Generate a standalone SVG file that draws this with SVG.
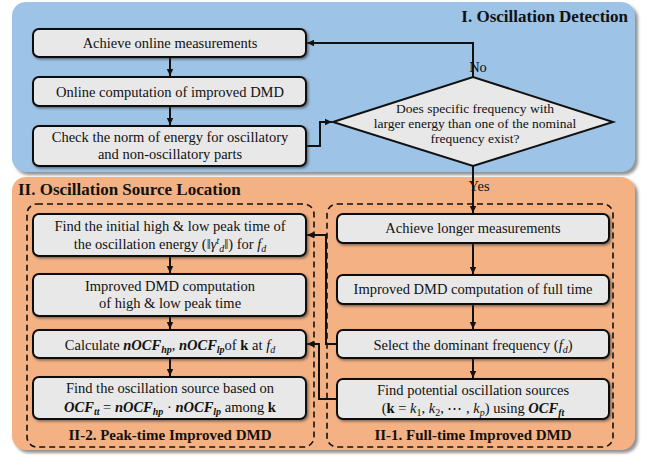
<svg xmlns="http://www.w3.org/2000/svg" width="651" height="455" viewBox="0 0 651 455">
<defs>
<style>
.t{font-family:"Liberation Serif","Times New Roman",serif;font-size:14.5px;fill:#111;text-anchor:middle}
.s{font-size:13.5px}
.h{font-family:"Liberation Serif","Times New Roman",serif;font-weight:bold;fill:#111}
.box{fill:#e8e8e8;stroke:#111;stroke-width:2;filter:url(#sh)}
.dash{fill:none;stroke:#111;stroke-width:1.6;stroke-dasharray:6 4}
.c{fill:none;stroke:#111;stroke-width:2}
.bi{font-weight:bold;font-style:italic}
.i{font-style:italic}
.b{font-weight:bold}
.sub{font-size:10px}
</style>
<filter id="sh" x="-5%" y="-20%" width="115%" height="150%">
<feDropShadow dx="1.5" dy="1.5" stdDeviation="1" flood-color="#333" flood-opacity="0.6"/>
</filter>
<filter id="psh" x="-5%" y="-5%" width="115%" height="115%">
<feDropShadow dx="3" dy="3" stdDeviation="1.5" flood-color="#777" flood-opacity="0.8"/>
</filter>
<marker id="ar" markerWidth="8" markerHeight="8" refX="7" refY="4" orient="auto" markerUnits="userSpaceOnUse">
<path d="M0,0.8 L7,4 L0,7.2 Z" fill="#111"/>
</marker>
</defs>

<g id="panel-detection">
<rect x="12" y="2" width="623" height="170" rx="14" fill="#9dc3e6" filter="url(#psh)"/>
<text class="h" x="628" y="22" font-size="17" text-anchor="end">I. Oscillation Detection</text>
</g>
<g id="panel-location">
<rect x="12" y="177" width="623" height="273" rx="14" fill="#f4b183" filter="url(#psh)"/>
<text class="h" x="18" y="195" font-size="17">II. Oscillation Source Location</text>
</g>

<g id="group-peak">
<rect class="dash" x="27" y="204" width="287" height="243" rx="10"/>
<text class="h" x="170" y="440" font-size="15" text-anchor="middle">II-2. Peak-time Improved DMD</text>
</g>
<g id="group-full">
<rect class="dash" x="327" y="204" width="286" height="243" rx="10"/>
<text class="h" x="473" y="440" font-size="15" text-anchor="middle">II-1. Full-time Improved DMD</text>
</g>

<g id="connectors">
<path class="c" d="M170,57 V76" marker-end="url(#ar)"/>
<path class="c" d="M170,106 V125" marker-end="url(#ar)"/>
<path class="c" d="M306,146 H320 V122 H332" marker-end="url(#ar)"/>
<path class="c" d="M473,77 V43 H307" marker-end="url(#ar)"/>
<path class="c" d="M473,166 V213" marker-end="url(#ar)"/>
<path class="c" d="M473,243 V274" marker-end="url(#ar)"/>
<path class="c" d="M473,304 V329" marker-end="url(#ar)"/>
<path class="c" d="M473,358 V378" marker-end="url(#ar)"/>
<path class="c" d="M170,256 V273" marker-end="url(#ar)"/>
<path class="c" d="M170,316 V329" marker-end="url(#ar)"/>
<path class="c" d="M170,358 V376" marker-end="url(#ar)"/>
<path class="c" d="M337,344 H326 V235 H307" marker-end="url(#ar)"/>
<path class="c" d="M337,399 H319 V344 H307" marker-end="url(#ar)"/>
<text class="t" x="478" y="72" text-anchor="start">No</text>
<text class="t" x="479" y="191" text-anchor="start">Yes</text>
</g>

<g id="n-achieve-online">
<rect class="box" x="33" y="29" width="273" height="28" rx="6"/>
<text class="t" x="170" y="48">Achieve online measurements</text>
</g>
<g id="n-online-dmd">
<rect class="box" x="33" y="77" width="273" height="29" rx="6"/>
<text class="t" x="170" y="97">Online computation of improved DMD</text>
</g>
<g id="n-check-norm">
<rect class="box" x="33" y="126" width="273" height="40" rx="6"/>
<text class="t" x="170" y="142">Check the norm of energy for oscillatory</text>
<text class="t" x="170" y="159">and non-oscillatory parts</text>
</g>
<g id="n-decision">
<polygon points="333,122 473,77 613,122 473,166" fill="#e8e8e8" stroke="#111" stroke-width="2"/>
<text class="t s" x="475" y="113">Does specific frequency with</text>
<text class="t s" x="475" y="128">larger energy than one of the nominal</text>
<text class="t s" x="475" y="143">frequency exist?</text>
</g>

<g id="n-achieve-longer">
<rect class="box" x="337" y="214" width="272" height="29" rx="6"/>
<text class="t" x="473" y="233">Achieve longer measurements</text>
</g>
<g id="n-full-dmd">
<rect class="box" x="337" y="275" width="272" height="29" rx="6"/>
<text class="t" x="473" y="294">Improved DMD computation of full time</text>
</g>
<g id="n-select-freq">
<rect class="box" x="337" y="330" width="272" height="28" rx="6"/>
<text class="t" x="473" y="350">Select the dominant frequency (<tspan class="i">f</tspan><tspan class="i sub" dy="3">d</tspan><tspan dy="-3">)</tspan></text>
</g>
<g id="n-potential">
<rect class="box" x="337" y="379" width="272" height="40" rx="6"/>
<text class="t" x="473" y="395">Find potential oscillation sources</text>
<text class="t" x="473" y="413">(<tspan class="b">k</tspan> = <tspan class="i">k</tspan><tspan class="sub" dy="3">1</tspan><tspan dy="-3">, </tspan><tspan class="i">k</tspan><tspan class="sub" dy="3">2</tspan><tspan dy="-3">, ⋯ , </tspan><tspan class="i">k</tspan><tspan class="i sub" dy="3">p</tspan><tspan dy="-3">) using </tspan><tspan class="bi">OCF</tspan><tspan class="bi sub" dy="3">ft</tspan></text>
</g>

<g id="n-initial-peak">
<rect class="box" x="33" y="214" width="273" height="42" rx="6"/>
<text class="t" x="170" y="231">Find the initial high &amp; low peak time of</text>
<text class="t" x="170" y="249">the oscillation energy (‖<tspan class="i">γ</tspan><tspan class="i sub" dy="-5">t</tspan><tspan class="i sub" dy="8">d</tspan><tspan dy="-3">‖) for </tspan><tspan class="i">f</tspan><tspan class="i sub" dy="3">d</tspan></text>
</g>
<g id="n-peak-dmd">
<rect class="box" x="33" y="274" width="273" height="42" rx="6"/>
<text class="t" x="170" y="291">Improved DMD computation</text>
<text class="t" x="170" y="308">of high &amp; low peak time</text>
</g>
<g id="n-calculate">
<rect class="box" x="33" y="330" width="273" height="28" rx="6"/>
<text class="t" x="170" y="350">Calculate <tspan class="bi">nOCF</tspan><tspan class="bi sub" dy="3">hp</tspan><tspan dy="-3">, </tspan><tspan class="bi">nOCF</tspan><tspan class="bi sub" dy="3">lp</tspan><tspan dy="-3">of </tspan><tspan class="b">k</tspan> at <tspan class="i">f</tspan><tspan class="i sub" dy="3">d</tspan></text>
</g>
<g id="n-find-source">
<rect class="box" x="33" y="377" width="273" height="42" rx="6"/>
<text class="t" x="170" y="393">Find the oscillation source based on</text>
<text class="t" x="170" y="412"><tspan class="bi">OCF</tspan><tspan class="bi sub" dy="3">tt</tspan><tspan dy="-3"> = </tspan><tspan class="bi">nOCF</tspan><tspan class="bi sub" dy="3">hp</tspan><tspan dy="-3"> · </tspan><tspan class="bi">nOCF</tspan><tspan class="bi sub" dy="3">lp</tspan><tspan dy="-3"> among </tspan><tspan class="b">k</tspan></text>
</g>
</svg>
